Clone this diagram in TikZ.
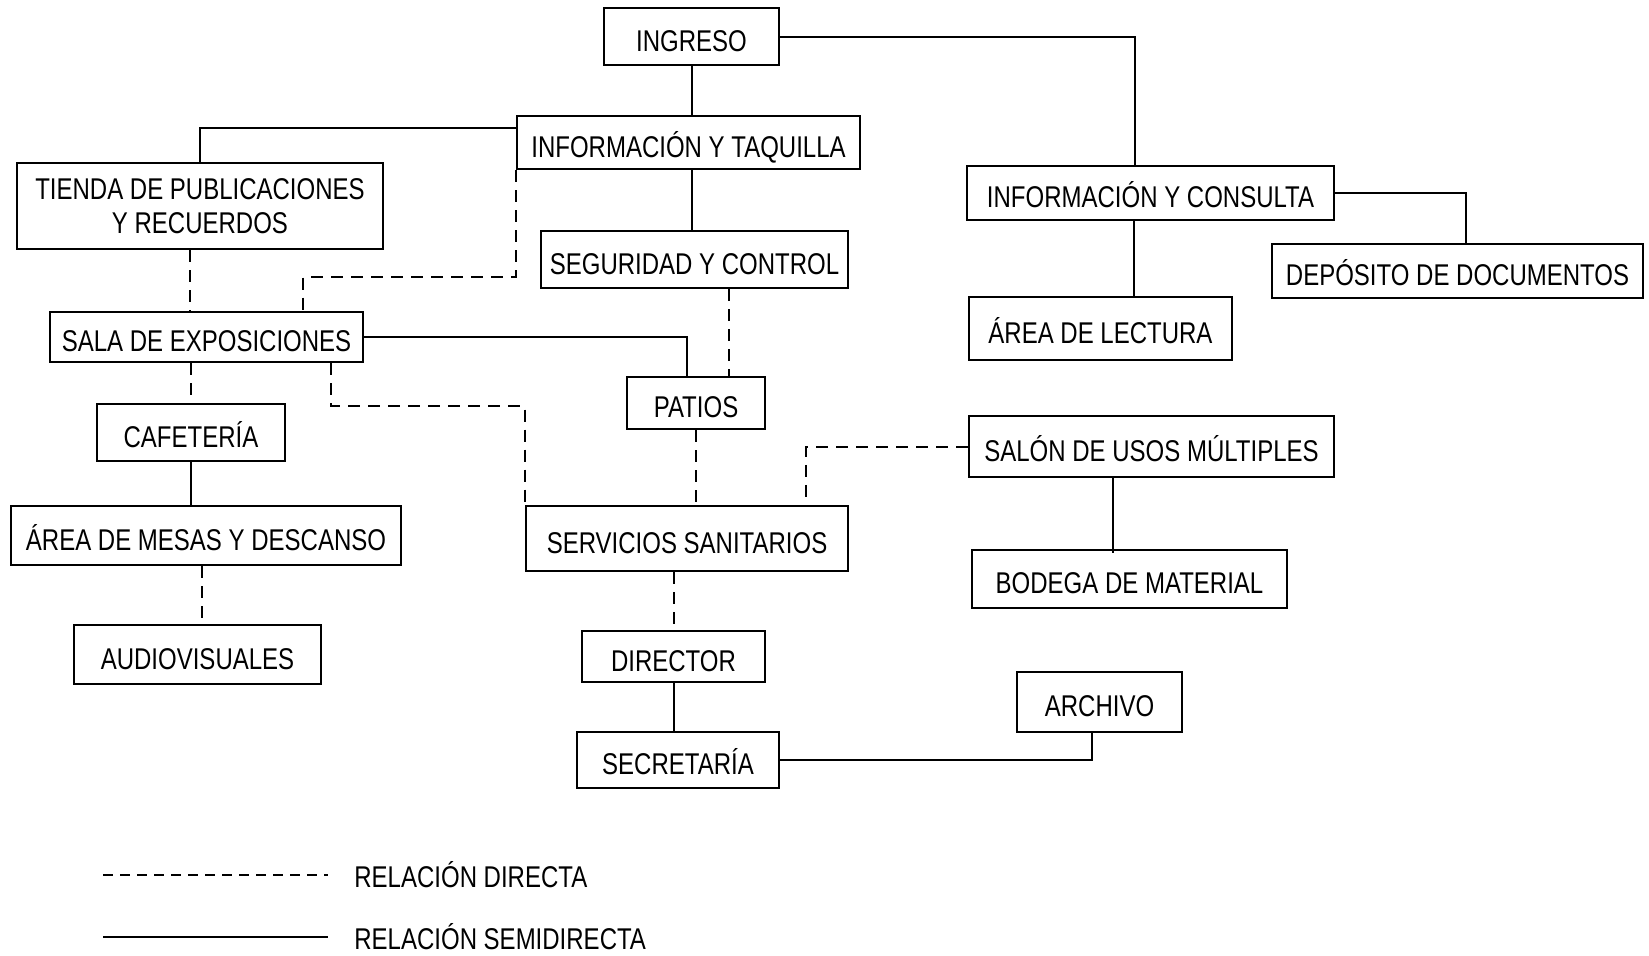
\documentclass[tikz,border=0pt]{standalone}
\usepackage{fontspec}
\newfontfamily\planfont[FakeStretch=0.8]{Liberation Sans}
\usetikzlibrary{calc}
\tikzset{
  roombase/.style  = {draw, line width=1.35pt, inner sep=0pt, align=center,
                      font=\planfont\fontsize{15}{17}\selectfont},
  roombox/.style   = {roombase, text height=14.5pt, text depth=0pt},
  boxsize/.style 2 args = {minimum width=#1*0.5pt, minimum height=#2*0.5pt},
  legtext/.style   = {anchor=west, inner sep=0pt, font=\planfont\fontsize{15}{17}\selectfont},
  semirel/.style   = {line width=1pt},
  directrel/.style = {line width=1pt, dash pattern=on 6pt off 4pt}
}

\begin{document}
\begin{tikzpicture}[x=0.5pt,y=-0.5pt]
  \useasboundingbox (0,0) rectangle (1649,955);
  \node[roombox,boxsize={175}{57}] (ingreso)       at (691.5,36.5)  {INGRESO};
  \node[roombox,boxsize={343}{53}] (taquilla)      at (688.5,142.5) {INFORMACIÓN Y TAQUILLA};
  \node[roombase,boxsize={366}{86}] (tienda)       at (200,206)     {TIENDA DE PUBLICACIONES\\Y RECUERDOS};
  \node[roombox,boxsize={307}{57}] (seguridad)     at (694.5,259.5) {SEGURIDAD Y CONTROL};
  \node[roombox,boxsize={313}{50}] (sala)          at (206.5,337)   {SALA DE EXPOSICIONES};
  \node[roombox,boxsize={138}{52}] (patios)        at (696,403)     {PATIOS};
  \node[roombox,boxsize={188}{57}] (cafeteria)     at (191,432.5)   {CAFETERÍA};
  \node[roombox,boxsize={390}{59}] (mesas)         at (206,535.5)   {ÁREA DE MESAS Y DESCANSO};
  \node[roombox,boxsize={247}{59}] (audiovisuales) at (197.5,654.5) {AUDIOVISUALES};
  \node[roombox,boxsize={322}{65}] (sanitarios)    at (687,538.5)   {SERVICIOS SANITARIOS};
  \node[roombox,boxsize={183}{51}] (director)      at (673.5,656.5) {DIRECTOR};
  \node[roombox,boxsize={202}{56}] (secretaria)    at (678,760)     {SECRETARÍA};
  \node[roombox,boxsize={367}{54}] (consulta)      at (1150.5,193)  {INFORMACIÓN Y CONSULTA};
  \node[roombox,boxsize={371}{54}] (deposito)      at (1457.5,271)  {DEPÓSITO DE DOCUMENTOS};
  \node[roombox,boxsize={263}{63}] (lectura)       at (1100.5,328.5){ÁREA DE LECTURA};
  \node[roombox,boxsize={365}{61}] (usos)          at (1151.5,446.5){SALÓN DE USOS MÚLTIPLES};
  \node[roombox,boxsize={315}{58}] (bodega)        at (1129.5,579)  {BODEGA DE MATERIAL};
  \node[roombox,boxsize={165}{60}] (archivo)       at (1099.5,702)  {ARCHIVO};

  \draw[semirel] (ingreso.south) -- (ingreso.south |- taquilla.north);
  \draw[semirel] (ingreso.east) -| ($(consulta.north)+(-16,0)$);
  \draw[semirel] ($(taquilla.west)+(0,-15)$) -| (tienda.north);
  \draw[directrel] (taquilla.south west) -- ++(0,107) -| ($(sala.north)+(96.5,0)$);
  \draw[semirel] (ingreso.south |- taquilla.south) -- (ingreso.south |- seguridad.north);
  \draw[directrel] ($(tienda.south)+(-10,0)$) -- ($(sala.north)+(-16.5,0)$);
  \draw[semirel] (sala.east) -| ($(patios.north)+(-9,0)$);
  \draw[directrel] ($(seguridad.south)+(34.5,0)$) -- ($(patios.north)+(33,0)$);
  \draw[directrel] (cafeteria.north |- sala.south) -- (cafeteria.north);
  \draw[directrel] ($(sala.south)+(124.5,0)$) -- ++(0,43) -| (sanitarios.north west);
  \draw[semirel] (cafeteria.south) -- (cafeteria.south |- mesas.north);
  \draw[directrel] ($(mesas.south)+(-4,0)$) -- ($(audiovisuales.north)+(4.5,0)$);
  \draw[directrel] (patios.south) -- (patios.south |- sanitarios.north);
  \draw[directrel] (usos.west) -| ($(sanitarios.north)+(119,0)$);
  \draw[directrel] (director.north |- sanitarios.south) -- (director.north);
  \draw[semirel] (director.south) -- (director.south |- secretaria.north);
  \draw[semirel] (secretaria.east) -| ($(archivo.south)+(-7.5,0)$);
  \draw[semirel] (consulta.east) -| ($(deposito.north)+(8.5,0)$);
  \draw[semirel] ($(consulta.south)+(-16.5,0)$) -- ($(lectura.north)+(33.5,0)$);
  \draw[semirel] ($(usos.south)+(-38.5,0)$) -- ($(bodega.north)+(-16.5,4)$);

  \coordinate (d1) at (103,875);
  \coordinate (d2) at (328,875);
  \coordinate (s1) at (103,937);
  \coordinate (s2) at (328,937);
  \draw[line width=1pt, dash pattern=on 5pt off 3.5pt] (d1) -- (d2);
  \draw[semirel] (s1) -- (s2);
  \node[legtext] (legdirect) at (354,875) {RELACIÓN DIRECTA};
  \node[legtext] (legsemi)   at (354,937) {RELACIÓN SEMIDIRECTA};
\end{tikzpicture}
\end{document}
